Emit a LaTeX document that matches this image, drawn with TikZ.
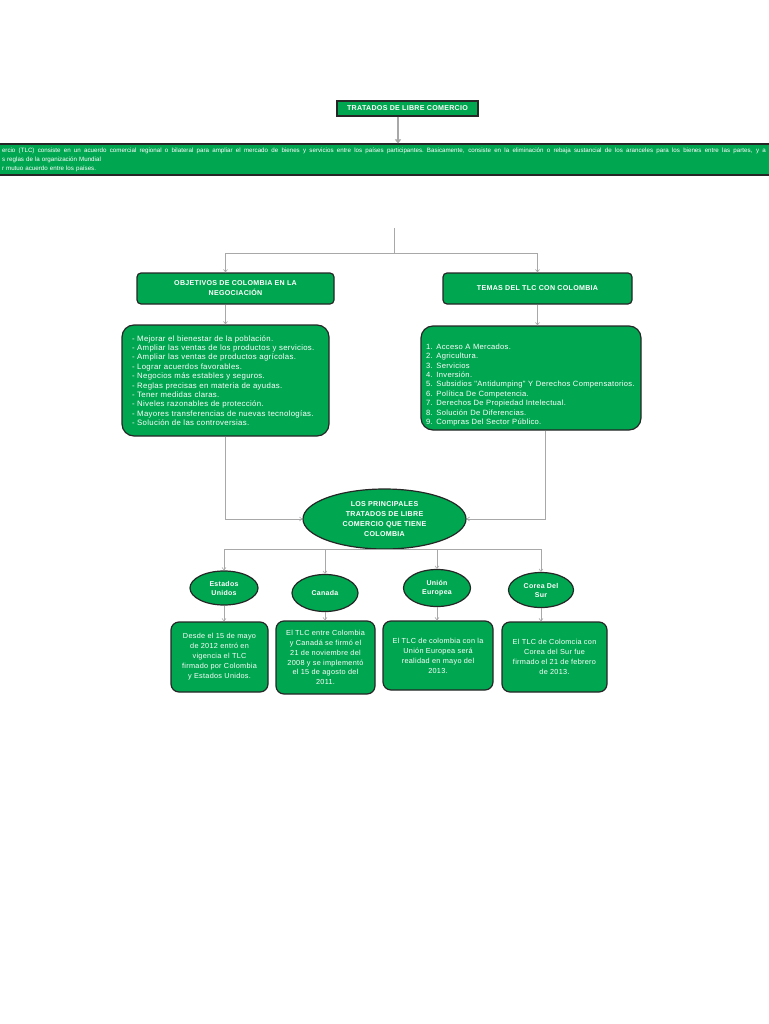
\documentclass[tikz,border=0pt]{standalone}
\usepackage{fontspec}
\setmainfont{Liberation Sans}
\newfontfamily\tlcfont[LetterSpace=4]{Liberation Sans}
\newfontfamily\tlcbold[LetterSpace=4]{Liberation Sans Bold}
\usetikzlibrary{arrows.meta, shapes.geometric}
\definecolor{tlcgreen}{HTML}{00A650}
\definecolor{linegray}{HTML}{A8A8A8}

\begin{document}
\begin{tikzpicture}[
    x=1pt, y=-1pt,
    box/.style={draw=black!85, line width=1.2pt, fill=tlcgreen, text=white, align=center, inner sep=1pt, font=\fontsize{7.1}{10}\tlcbold},
    head/.style={box, rounded corners=4pt, minimum height=31pt},
    lista/.style={box, rounded corners=12pt, align=left, font=\fontsize{7.8}{9.4}\tlcfont},
    tlc/.style={box, rounded corners=8pt, font=\fontsize{7.3}{10}\tlcfont},
    pais/.style={box, ellipse, inner sep=0pt, font=\fontsize{7}{9}\tlcbold},
    arr/.style={-{Straight Barb[length=2.5pt,width=4pt]}, draw=linegray, line width=0.6pt},
    gris/.style={draw=linegray, line width=0.6pt}
]
\useasboundingbox (0,0) rectangle (768,1024);

\node[box, minimum width=141pt, minimum height=15pt, inner sep=0pt] (titulo) at (407.5,108.5) {TRATADOS DE LIBRE COMERCIO};
\node[box, minimum width=772pt, minimum height=31pt, text width=764pt, align=left, font=\fontsize{6.2}{9}\selectfont] (resumen) at (384,159.5)
    {\makebox[764pt][s]{\spaceskip=1.5pt plus 1fil minus 0.5pt\relax ercio (TLC) consiste en un acuerdo comercial regional o bilateral para ampliar el mercado de bienes y servicios entre los países participantes. Basicamente, consiste en la eliminación o rebaja sustancial de los aranceles para los bienes entre las partes, y a}\\
     s reglas de la organización Mundial\\
     r mutuo acuerdo entre los países.};

\node[head, minimum width=197pt] (objetivos) at (235.5,288.5) {OBJETIVOS DE COLOMBIA EN LA\\NEGOCIACIÓN};
\node[head, minimum width=189pt] (temas) at (537.5,288.5) {TEMAS DEL TLC CON COLOMBIA};

\node[lista, minimum width=207pt, minimum height=111pt, text width=187pt] (lista1) at (225.5,380.5)
    {- Mejorar el bienestar de la población.\\
     - Ampliar las ventas de los productos y servicios.\\
     - Ampliar las ventas de productos agrícolas.\\
     - Lograr acuerdos favorables.\\
     - Negocios más estables y seguros.\\
     - Reglas precisas en materia de ayudas.\\
     - Tener medidas claras.\\
     - Niveles razonables de protección.\\
     - Mayores transferencias de nuevas tecnologías.\\
     - Solución de las controversias.};
\node[lista, minimum width=220pt, minimum height=104pt, text width=210pt, font=\fontsize{7.6}{9.4}\tlcfont] (lista2) at (531,378)
    {\\[10pt]
     1. Acceso A Mercados.\\
     2. Agricultura.\\
     3. Servicios\\
     4. Inversión.\\
     5. Subsidios "Antidumping" Y Derechos Compensatorios.\\
     6. Política De Competencia.\\
     7. Derechos De Propiedad Intelectual.\\
     8. Solución De Diferencias.\\
     9. Compras Del Sector Público.};

\node[box, ellipse, minimum width=163pt, minimum height=60pt, inner sep=0pt] (principales) at (384.5,519)
    {LOS PRINCIPALES\\TRATADOS DE LIBRE\\COMERCIO QUE TIENE\\COLOMBIA};

\node[pais, minimum width=68pt, minimum height=34pt] (eeuu) at (224,588) {Estados\\Unidos};
\node[pais, minimum width=66pt, minimum height=37pt] (canada) at (325,593) {Canada};
\node[pais, minimum width=67pt, minimum height=37pt] (ue) at (437,588) {Unión\\Europea};
\node[pais, minimum width=65pt, minimum height=35pt] (corea) at (541,590) {Corea Del\\Sur};

\node[tlc, minimum width=97pt, minimum height=70pt] (tlc1) at (219.5,657)
    {Desde el 15 de mayo\\de 2012 entró en\\vigencia el TLC\\firmado por Colombia\\y Estados Unidos.};
\node[tlc, minimum width=99pt, minimum height=73pt, font=\fontsize{7.3}{9.8}\tlcfont] (tlc2) at (325.5,657.5)
    {El TLC entre Colombia\\y Canadá se firmó el\\21 de noviembre del\\2008 y se implementó\\el 15 de agosto del\\2011.};
\node[tlc, minimum width=110pt, minimum height=69pt] (tlc3) at (438,655.5)
    {El TLC de colombia con la\\Unión Europea será\\realidad en mayo del\\2013.};
\node[tlc, minimum width=105pt, minimum height=70pt] (tlc4) at (554.5,657)
    {El TLC de Colomcia con\\Corea del Sur fue\\firmado el 21 de febrero\\de 2013.};

% conectores
\draw[-{Straight Barb[length=3pt,width=5pt]}, draw=linegray, line width=1.4pt] ([xshift=-9.5pt]titulo.south) -- ([xshift=-9.5pt]titulo.south |- resumen.north);
\coordinate (rama) at (394,228);
\coordinate (cruce) at (394,253);
\draw[gris] (rama) -- (cruce);
\draw[arr] (cruce) -| (objetivos.north -| lista1.north);
\draw[arr] (cruce) -| (temas.north);
\draw[arr] (objetivos.south -| lista1.north) -- (lista1.north);
\draw[arr] (temas.south) -- (temas.south |- lista2.north);
\draw[arr] (lista1.south) |- (principales.west);
\draw[arr] ([xshift=14pt]lista2.south) |- (principales.east);
\foreach \p in {eeuu, canada, ue, corea}
    \draw[arr] (principales.south) -| (\p.north);
\draw[arr] (eeuu.south) -- (eeuu.south |- tlc1.north);
\draw[arr] (canada.south) -- (canada.south |- tlc2.north);
\draw[arr] (ue.south) -- (ue.south |- tlc3.north);
\draw[arr] (corea.south) -- (corea.south |- tlc4.north);
\end{tikzpicture}
\end{document}
